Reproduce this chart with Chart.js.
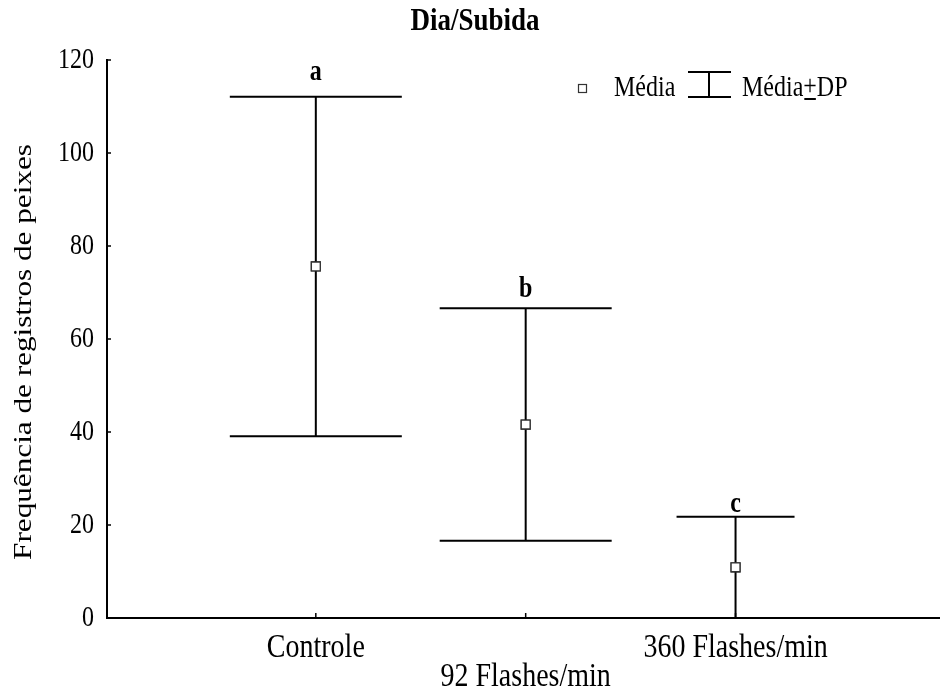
<!DOCTYPE html>
<html>
<head>
<meta charset="utf-8">
<script src="https://cdn.jsdelivr.net/npm/chart.js@4"></script>
<style>
  body { margin: 0; background: #fff; }
  canvas { display: block; }
</style>
</head>
<body>
<canvas id="grafico" width="940" height="691"></canvas>
<script>
// dados
const categorias = ['Controle', '92 Flashes/min', '360 Flashes/min'];
const medias = [75.6, 41.6, 10.9];
const desvios = [36.5, 25.0, 10.9];
const letras = ['a', 'b', 'c'];
const yTicks = [0, 20, 40, 60, 80, 100, 120];

const serif = "'Liberation Serif', 'Times New Roman', serif";
const esticar = 1.2;              // o texto do original é mais alto que largo
const capHalf = [86, 86, 59];     // meia largura das barras (px)
const letraDy = [24, 19, 12];     // distância da letra acima da barra (px)

// escreve texto esticado na vertical, devolve a largura
function texto(c, t, x, y, font, align, rot) {
    c.save();
    c.translate(x, y);
    c.scale(1, esticar);
    if (rot) c.rotate(rot);
    c.font = font;
    c.textAlign = align || 'center';
    c.textBaseline = 'middle';
    c.fillStyle = '#000';
    c.fillText(t, 0, 0);
    const w = c.measureText(t).width;
    c.restore();
    return w;
}

const desenho = {
    id: 'desenho',
    afterDatasetsDraw(chart) {
        const c = chart.ctx;
        const x = chart.scales.x;
        const y = chart.scales.y;
        c.save();
        c.strokeStyle = '#000';
        c.lineWidth = 2;

        // o eixo x vai até a borda
        c.beginPath();
        c.moveTo(x.right - 2, y.bottom); c.lineTo(940, y.bottom);
        c.stroke();

        medias.forEach((m, i) => {
            const px = x.getPixelForValue(i + 1);
            const top = y.getPixelForValue(m + desvios[i]);
            const bot = y.getPixelForValue(Math.max(0, m - desvios[i]));
            c.beginPath();
            c.moveTo(px, top); c.lineTo(px, bot);
            c.moveTo(px - capHalf[i], top); c.lineTo(px + capHalf[i], top);
            c.moveTo(px - capHalf[i], bot); c.lineTo(px + capHalf[i], bot);
            c.stroke();
        });

        // marcas para dentro nos eixos
        c.lineWidth = 1.5;
        c.beginPath();
        categorias.forEach((_, i) => {
            const px = x.getPixelForValue(i + 1);
            c.moveTo(px, y.bottom); c.lineTo(px, y.bottom - 5);
        });
        yTicks.forEach(v => {
            const py = y.getPixelForValue(v);
            c.moveTo(x.left, py); c.lineTo(x.left + 4, py);
        });
        c.stroke();
        c.restore();

        // pontos por cima das linhas
        chart.getDatasetMeta(0).controller.draw();
    },
    afterDraw(chart) {
        const c = chart.ctx;
        const x = chart.scales.x;
        const y = chart.scales.y;

        texto(c, 'Dia/Subida', 475, 22, 'bold 27px ' + serif);

        // rótulos dos eixos
        yTicks.forEach(v => {
            texto(c, String(v), 94, y.getPixelForValue(v), '24px ' + serif, 'right');
        });
        categorias.forEach((cat, i) => {
            const py = i === 1 ? 677 : 648;
            texto(c, cat, x.getPixelForValue(i + 1), py, '28px ' + serif);
        });
        texto(c, 'Frequência de registros de peixes', 24, 352, '26px ' + serif, 'center', -Math.PI / 2);

        // letras de significância
        medias.forEach((m, i) => {
            const top = y.getPixelForValue(m + desvios[i]);
            texto(c, letras[i], x.getPixelForValue(i + 1), top - letraDy[i], 'bold 24px ' + serif);
        });

        // legenda
        c.save();
        c.fillStyle = '#fff';
        c.strokeStyle = '#333';
        c.lineWidth = 1.2;
        c.fillRect(578, 84, 8, 8);
        c.strokeRect(578.5, 84.5, 8, 8);
        c.strokeStyle = '#000';
        c.lineWidth = 2;
        c.beginPath();
        c.moveTo(688, 72); c.lineTo(731, 72);
        c.moveTo(709, 72); c.lineTo(709, 97);
        c.moveTo(688, 97); c.lineTo(731, 97);
        c.stroke();
        c.restore();
        const f = '24px ' + serif;
        texto(c, 'Média', 614, 88, f, 'left');
        let lx = 742;
        lx += texto(c, 'Média', lx, 88, f, 'left');
        const wp = texto(c, '+', lx, 87, f, 'left');
        c.save();
        c.strokeStyle = '#000';
        c.lineWidth = 2;
        c.beginPath();
        c.moveTo(lx + 1, 99); c.lineTo(lx + wp - 1, 99);
        c.stroke();
        c.restore();
        texto(c, 'DP', lx + wp, 88, f, 'left');
    }
};

const ctx = document.getElementById('grafico').getContext('2d');
const grafico = new Chart(ctx, {
    type: 'scatter',
    data: {
        datasets: [{
            label: 'Média',
            data: medias.map((m, i) => ({ x: i + 1, y: m })),
            pointStyle: 'rect',
            pointRadius: 6.3,
            pointBackgroundColor: '#fff',
            pointBorderColor: '#333',
            pointBorderWidth: 1.3
        }]
    },
    options: {
        responsive: false,
        animation: false,
        devicePixelRatio: 1,
        layout: { padding: { top: 60, right: 0, left: 0, bottom: 0 } },
        plugins: {
            legend: { display: false },
            title: { display: false },
            tooltip: { enabled: false }
        },
        scales: {
            x: {
                type: 'linear',
                min: 0.005,
                max: 3.938,
                afterFit: (s) => { s.height = 73; },
                ticks: { display: false },
                grid: { display: false },
                border: { color: '#000', width: 2 }
            },
            y: {
                min: 0,
                max: 120,
                afterFit: (s) => { s.width = 107; },
                ticks: { display: false },
                grid: { display: false },
                border: { color: '#000', width: 2 }
            }
        }
    },
    plugins: [desenho]
});
</script>
</body>
</html>
